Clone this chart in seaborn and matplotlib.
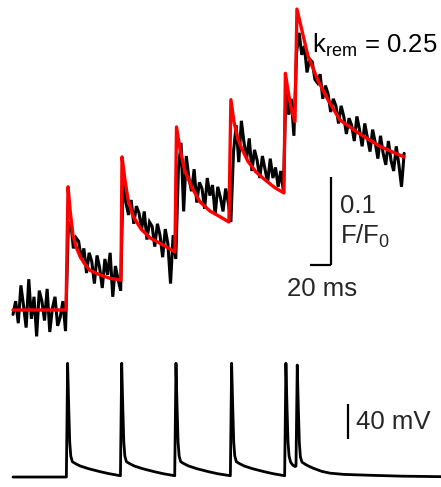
import numpy as np
import pandas as pd
import matplotlib
matplotlib.use("Agg")
import matplotlib.pyplot as plt
import seaborn as sns

sns.set_style("white")
plt.rcParams["font.family"] = ["Liberation Sans", "DejaVu Sans"]
plt.rcParams["mathtext.fontset"] = "custom"
plt.rcParams["mathtext.rm"] = "Liberation Sans"
plt.rcParams["mathtext.it"] = "Liberation Sans"

# --- calcium fluorescence recording (dF/F0), sampled every 2.5 ms ---
sample_interval_ms = 2.5
dff_trace = [
    # before first spike
    -0.005, 0.010, -0.015, 0.028, 0.005, -0.020, 0.035, -0.010, 0.015, -0.030,
    0.022, 0.010, -0.012, 0.024, -0.025, 0.002, 0.015, -0.018, -0.008, 0.010, -0.024,
    # after spike 1
    0.088, 0.100, 0.070, 0.082, 0.078, 0.058, 0.070, 0.042, 0.065, 0.055,
    0.030, 0.062, 0.048, 0.025, 0.058, 0.040, 0.065, 0.015, 0.050, 0.035, 0.022,
    # after spike 2
    0.158, 0.122, 0.108, 0.125, 0.098, 0.118, 0.110, 0.092, 0.112, 0.080,
    0.100, 0.095, 0.072, 0.098, 0.085, 0.060, 0.092, 0.075, 0.030, 0.085, 0.058,
    # after spike 3
    0.160, 0.190, 0.112, 0.175, 0.150, 0.135, 0.160, 0.122, 0.145, 0.138,
    0.115, 0.150, 0.130, 0.142, 0.108, 0.140, 0.128, 0.112, 0.138, 0.122, 0.100,
    # after spike 4
    0.180, 0.210, 0.168, 0.215, 0.190, 0.172, 0.195, 0.158, 0.182, 0.170,
    0.150, 0.175, 0.160, 0.145, 0.172, 0.150, 0.162, 0.140, 0.158, 0.135,
    # after spike 5
    0.255, 0.222, 0.240, 0.198,
    # after spike 6
    0.292, 0.315, 0.290, 0.300, 0.270, 0.285, 0.282, 0.262, 0.258, 0.268,
    0.240, 0.255, 0.246, 0.225, 0.240, 0.232, 0.212, 0.232, 0.220, 0.200,
    0.218, 0.210, 0.192, 0.220, 0.205, 0.186, 0.212, 0.196, 0.180, 0.205,
    0.190, 0.172, 0.198, 0.178, 0.165, 0.192, 0.170, 0.158, 0.186, 0.165,
    0.140, 0.178,
]

# --- model fit (k_rem = 0.25), knots in ms / dF/F0 ---
fit_t = [0, 50.5, 52.4, 54.3, 57.1, 60.0, 63.8, 68.5, 73.3, 82.8, 92.3, 102.8,
         103.8, 106.6, 109.5, 114.2, 121.9, 130.4, 142.8, 154.2,
         155.7, 159.0, 163.7, 170.4, 178.0, 187.5, 197.1, 205.6,
         207.5, 210.4, 214.2, 218.0, 223.7, 231.3, 239.9, 249.4, 258.0,
         259.4, 261.8, 265.1, 268.5,
         270.4, 275.1, 280.8, 290.4, 299.9, 311.3, 330.3, 349.4, 372.2]
fit_dff = [0.0, 0.0, 0.140, 0.114, 0.085, 0.072, 0.061, 0.052, 0.045, 0.040, 0.036, 0.034,
           0.174, 0.148, 0.126, 0.107, 0.092, 0.082, 0.074, 0.066,
           0.208, 0.183, 0.158, 0.139, 0.123, 0.1125, 0.106, 0.100,
           0.239, 0.214, 0.194, 0.183, 0.169, 0.157, 0.148, 0.139, 0.133,
           0.269, 0.250, 0.228, 0.214,
           0.342, 0.318, 0.289, 0.261, 0.239, 0.216, 0.200, 0.186, 0.174]

# --- membrane potential, knots in ms / mV ---
vm_t = [0, 50.8, 52.0, 53.0, 54.0, 55.0, 56.5, 60.0, 64.0, 72.0, 83.0, 92.0, 102.3,
        103.5, 104.5, 105.5, 106.5, 108.0, 111.5, 115.5, 123.5, 134.5, 143.5, 154.0,
        155.2, 156.2, 157.2, 158.2, 159.7, 163.2, 167.2, 175.2, 186.2, 195.2, 207.0,
        208.2, 209.2, 210.2, 211.2, 212.7, 216.2, 220.2, 228.2, 239.2, 248.2, 258.7,
        259.9, 260.9, 261.9, 262.9, 264.4, 266.5, 268.6, 269.5,
        270.7, 271.7, 272.7, 273.7, 275.2, 279.5, 286.0, 294.0, 302.0, 315.0, 340.0, 370.0, 407.6]
vm_mv = [-70, -70, 60, 12, -30, -46, -52.5, -55, -57.4, -60.5, -63.9, -66.3, -68.5,
         60, 12, -30, -46, -52.5, -55, -57.4, -60.5, -63.9, -66.3, -68.5,
         60, 12, -30, -46, -52.5, -55, -57.4, -60.5, -63.9, -66.3, -68.5,
         60, 12, -30, -46, -52.5, -55, -57.4, -60.5, -63.9, -66.3, -68.5,
         60, 12, -30, -46, -53, -56.5, -58, -57.5,
         58, 10, -31, -47, -53, -56.3, -60, -63.5, -65.6, -67, -68, -69, -69.6]

trace_df = pd.DataFrame({
    "t": np.arange(len(dff_trace)) * sample_interval_ms,
    "dff": dff_trace,
})
fit_df = pd.DataFrame({"t": fit_t, "dff": fit_dff})
vm_df = pd.DataFrame({"t": vm_t, "mv": vm_mv})

W, H = 441, 487
fig = plt.figure(figsize=(W / 100, H / 100), dpi=100)
ax_f = fig.add_axes([0, 147 / H, 1, 340 / H])
ax_v = fig.add_axes([0, 0, 1, 147 / H])

xlim = (-12.4, 407.6)

# fluorescence panel: raw trace (jagged joins) with the model fit on top
sns.lineplot(data=trace_df, x="t", y="dff", ax=ax_f, color="black",
             linewidth=2.2, sort=False, estimator=None)
for ln in ax_f.get_lines():
    ln.set_solid_joinstyle("miter")
sns.lineplot(data=fit_df, x="t", y="dff", ax=ax_f, color="#ff0000",
             linewidth=2.4, sort=False, estimator=None)
ax_f.set_xlim(*xlim)
ax_f.set_ylim(-0.0341, 0.3523)

fs = 18.5
ax_f.text(285.0, 0.292, r"k$_{\mathrm{rem}}$ = 0.25", fontsize=fs,
          ha="left", va="baseline", color="black")

# scale bar: 20 ms x 0.1 F/F0
bar_x, bar_y0 = 302.7, 0.051
ax_f.plot([bar_x, bar_x], [bar_y0, bar_y0 + 0.1], color="black", lw=1.6,
          solid_capstyle="butt")
ax_f.plot([bar_x - 20, bar_x], [bar_y0, bar_y0], color="black", lw=1.6,
          solid_capstyle="butt")
ax_f.text(311.5, 0.118, "0.1", fontsize=fs, ha="left", va="center")
ax_f.text(311.5, 0.084, r"F/F$_0$", fontsize=fs, ha="left", va="center")
ax_f.text(294.6, 0.024, "20 ms", fontsize=fs, ha="center", va="center")

# membrane potential panel
sns.lineplot(data=vm_df, x="t", y="mv", ax=ax_v, color="black",
             linewidth=2.0, sort=False, estimator=None)
ax_v.set_xlim(*xlim)
ax_v.set_ylim(-81.4, 86.6)
ax_v.plot([318.9, 318.9], [-26.6, 13.4], color="black", lw=1.6,
          solid_capstyle="butt")
ax_v.text(327.0, -7.1, "40 mV", fontsize=fs, ha="left", va="center")

for ax in (ax_f, ax_v):
    ax.set_axis_off()
    ax.set_xlabel("")
    ax.set_ylabel("")

fig.savefig("out.png", dpi=100)
